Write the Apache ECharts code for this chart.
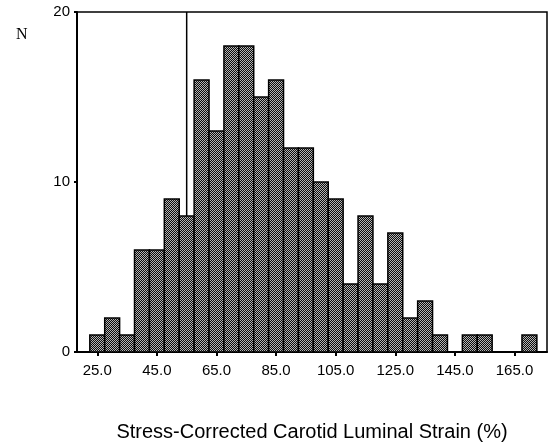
<!DOCTYPE html>
<html><head><meta charset="utf-8">
<script src="https://cdn.jsdelivr.net/npm/echarts@6/dist/echarts.min.js"></script>
<style>html,body{margin:0;padding:0;background:#fff}#c{width:552px;height:442px}</style>
</head><body><div id="c"></div>
<script>
// bin centres (bin width 5) and counts
const binCenters = [25,30,35,40,45,50,55,60,65,70,75,80,85,90,95,100,105,110,115,120,125,130,135,140,145,150,155,160,165,170];
const counts     = [ 1, 2, 1, 6, 6, 9, 8,16,13,18,18,15,16,12,12, 10,  9,  4,  8,  4,  7,  2,  3,  1,  0,  1,  1,  0,  0,  1];
const binWidth = 5;
const xTicks = [25,45,65,85,105,125,145,165];
const yTicks = [0,10,20];
const refLine = 55;
const xTitle = 'Stress-Corrected Carotid Luminal Strain (%)';
const yTitle = 'N';

// stipple pattern
const pc = document.createElement('canvas');
pc.width = 2; pc.height = 2;
const g = pc.getContext('2d');
g.fillStyle = '#0c0c0c'; g.fillRect(0,0,2,2);
g.fillStyle = '#b4b4b4'; g.fillRect(0,0,1,1); g.fillRect(1,1,1,1);

const chart = echarts.init(document.getElementById('c'), null, {renderer:'canvas'});
const lab = {fontFamily:'Liberation Sans, Arial, sans-serif', fontSize:15, color:'#000'};
chart.setOption({
  animation:false,
  title:{text:yTitle, left:11, top:22, textStyle:{fontFamily:'Liberation Serif, Times New Roman, serif', fontSize:16, fontWeight:'normal', color:'#000'}},
  grid:{left:77, right:5, top:12, bottom:90, outerBoundsMode:'none', containLabel:false,
    show:true, borderColor:'#000', borderWidth:1.5, backgroundColor:'transparent'},
  xAxis:{type:'value', min:18.2, max:175.9,
    name:xTitle, nameLocation:'middle', nameGap:70,
    nameTextStyle:{fontFamily:'Liberation Sans, Arial, sans-serif', fontSize:20, color:'#000'},
    axisLine:{show:true, onZero:false, lineStyle:{color:'#000', width:2}},
    axisTick:{show:true, customValues:xTicks, length:4, lineStyle:{color:'#000', width:2}},
    axisLabel:Object.assign({customValues:xTicks, margin:11, formatter:v=>v.toFixed(1)}, lab),
    splitLine:{show:false}},
  yAxis:{type:'value', min:0, max:20, interval:10,
    axisLine:{show:true, lineStyle:{color:'#000', width:2}},
    axisTick:{show:true, length:3, lineStyle:{color:'#000', width:2}},
    axisLabel:Object.assign({margin:7}, lab),
    splitLine:{show:false}},
  series:[
    {type:'line', data:[[refLine,0],[refLine,20]], symbol:'none', z:1,
     lineStyle:{color:'#000', width:1.5}},
    {type:'custom', z:2,
     data: binCenters.map((c,i)=>[c,counts[i]]).filter(d=>d[1]>0),
     renderItem:function(params, api){
       const c = api.value(0), n = api.value(1);
       const p0 = api.coord([c-binWidth/2, n]);
       const p1 = api.coord([c+binWidth/2, 0]);
       return {type:'rect', shape:{x:p0[0], y:p0[1], width:p1[0]-p0[0], height:p1[1]-p0[1]},
         style:{fill:{image:pc, repeat:'repeat'}, stroke:'#000', lineWidth:1.5}};
     }}
  ]
});
</script></body></html>
